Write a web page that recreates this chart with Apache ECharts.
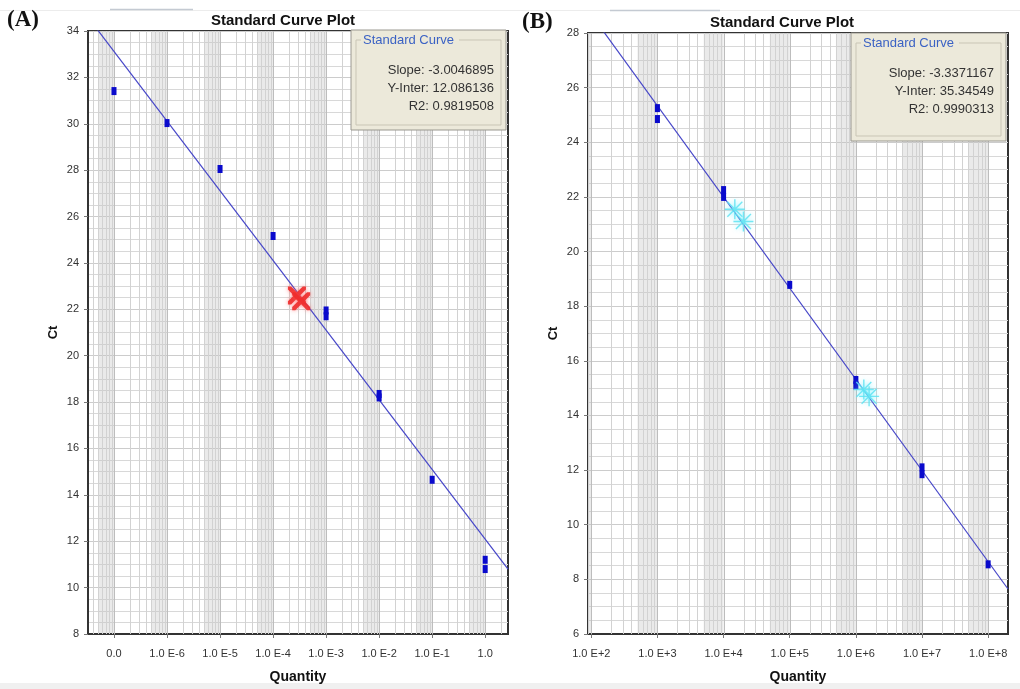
<!DOCTYPE html>
<html>
<head>
<meta charset="utf-8">
<title>Standard Curve Plot</title>
<script src="https://cdn.jsdelivr.net/npm/echarts@6/dist/echarts.min.js"></script>
<style>
  html, body { margin: 0; padding: 0; background: #fff; }
  #main { width: 1020px; height: 689px; }
</style>
</head>
<body>
<div id="main"></div>
<script>
// ---- panel A (x = log10 quantity) ----
var logQtyA = [-7, -6, -5, -4, -3, -3, -2, -2, -1, 0, 0];
var ctA = [31.41, 30.03, 28.05, 25.16, 21.95, 21.70, 18.35, 18.20, 14.65, 11.20, 10.80];
var unkLogA = [-3.55, -3.47];
var unkCtA = [22.60, 22.35];
var decadesA = [-7, -6, -5, -4, -3, -2, -1, 0];
var tickLabelsA = ['0.0', '1.0 E-6', '1.0 E-5', '1.0 E-4', '1.0 E-3', '1.0 E-2', '1.0 E-1', '1.0'];
var fitA = [-3.0046895, 12.086136, 0.9819508]; // slope, y-inter, R2

// ---- panel B ----
var logQtyB = [3, 3, 4, 4, 5, 6, 6, 7, 7, 8];
var ctB = [25.25, 24.85, 22.25, 22.00, 18.78, 15.30, 15.10, 12.10, 11.85, 8.55];
var unkLogB = [4.17, 4.30, 6.12, 6.20];
var unkCtB = [21.55, 21.10, 14.95, 14.70];
var decadesB = [2, 3, 4, 5, 6, 7, 8];
var tickLabelsB = ['1.0 E+2', '1.0 E+3', '1.0 E+4', '1.0 E+5', '1.0 E+6', '1.0 E+7', '1.0 E+8'];
var fitB = [-3.3371167, 35.34549, 0.9990313];

var xRangeA = [-7.49, 0.43], yRangeA = [8, 34];
var xRangeB = [1.95, 8.30], yRangeB = [6, 28];

var FONT = '"Liberation Sans", Arial, sans-serif';

function pairs(xs, ys) {
    return xs.map(function (x, i) { return [x, ys[i]]; });
}

// log grid positions (decades + 2..9 inside each decade)
function logLines(range) {
    var out = [];
    for (var d = Math.floor(range[0]); d <= Math.ceil(range[1]); d++) {
        for (var k = 1; k <= 9; k++) {
            var v = d + Math.log10(k);
            if (v >= range[0] && v <= range[1]) out.push([v, k === 1 ? 1 : 0]);
        }
    }
    return out;
}
function bands(range) {
    var out = [];
    for (var d = Math.floor(range[0]); d <= Math.ceil(range[1]); d++) {
        out.push([d + Math.log10(5), d + 1]);
    }
    return out;
}

function gridSeries(idx, xr, yr) {
    return [{
        type: 'custom', xAxisIndex: idx, yAxisIndex: idx, silent: true, z: 0, clip: true,
        data: bands(xr),
        renderItem: function (params, api) {
            var p1 = api.coord([api.value(0), yr[1]]);
            var p2 = api.coord([api.value(1), yr[0]]);
            return { type: 'rect', shape: { x: p1[0], y: p1[1], width: p2[0] - p1[0], height: p2[1] - p1[1] },
                     style: { fill: 'rgba(195,195,195,0.35)' } };
        }
    }, {
        type: 'custom', xAxisIndex: idx, yAxisIndex: idx, silent: true, z: 1, clip: true,
        data: logLines(xr),
        renderItem: function (params, api) {
            var p1 = api.coord([api.value(0), yr[1]]);
            var p2 = api.coord([api.value(0), yr[0]]);
            var x = Math.round(p1[0]) + 0.5;
            return { type: 'line', shape: { x1: x, y1: p1[1], x2: x, y2: p2[1] },
                     style: { stroke: api.value(1) ? '#bdbdbd' : '#d2d2d2', lineWidth: 1 } };
        }
    }];
}

function fitLine(idx, xr, fit) {
    return {
        type: 'line', xAxisIndex: idx, yAxisIndex: idx, showSymbol: false, silent: true, z: 2,
        data: [[xr[0], fit[0] * xr[0] + fit[1]], [xr[1], fit[0] * xr[1] + fit[1]]],
        lineStyle: { color: '#4646c8', width: 1.2 }
    };
}

var crossPath = 'path://M0,0 L3.5,0 L10,6.5 L16.5,0 L20,0 L20,3.5 L13.5,10 L20,16.5 L20,20 L16.5,20 L10,13.5 L3.5,20 L0,20 L0,16.5 L6.5,10 L0,3.5 Z';
var starPath = 'path://M0,9.3 L20,9.3 L20,10.7 L0,10.7 Z M9.3,0 L10.7,0 L10.7,20 L9.3,20 Z M2,3 L3,2 L18,17 L17,18 Z M17,2 L18,3 L3,18 L2,17 Z';

function xAxis(idx, xr, decades, labels) {
    return {
        type: 'value', gridIndex: idx, min: xr[0], max: xr[1],
        axisLine: { onZero: false, lineStyle: { color: '#333', width: 2 } },
        splitLine: { show: false },
        axisTick: { customValues: decades, length: 4, lineStyle: { color: '#777' } },
        axisLabel: {
            customValues: decades, margin: 14, fontSize: 11, color: '#333', fontFamily: FONT,
            formatter: function (v) { return labels[decades.indexOf(Math.round(v))]; }
        },
        name: 'Quantity', nameLocation: 'middle', nameGap: 36,
        nameTextStyle: { fontWeight: 'bold', fontSize: 14, color: '#111', fontFamily: FONT }
    };
}
function yAxis(idx, yr) {
    return {
        type: 'value', gridIndex: idx, min: yr[0], max: yr[1], interval: 2,
        axisLine: { show: true, onZero: false, lineStyle: { color: '#333', width: 2 } },
        axisTick: { show: true, length: 4, lineStyle: { color: '#777' } },
        axisLabel: { margin: 9, fontSize: 11, color: '#333', fontFamily: FONT },
        splitLine: { lineStyle: { color: '#cccccc' } },
        minorTick: { show: false, splitNumber: 4 },
        minorSplitLine: { show: true, lineStyle: { color: '#d8d8d8' } },
        name: 'Ct', nameLocation: 'middle', nameGap: 28,
        nameTextStyle: { fontWeight: 'bold', fontSize: 13, color: '#111', fontFamily: FONT }
    };
}

function legendBox(x, y, w, h, fit) {
    var bg = '#ece9da';
    var items = [
        { type: 'rect', shape: { x: x, y: y, width: w, height: h }, style: { fill: bg, stroke: '#9a9890', lineWidth: 1 } },
        { type: 'rect', shape: { x: x + 5, y: y + 10, width: w - 10, height: h - 15 }, style: { fill: 'none', stroke: '#c9c5b5', lineWidth: 1 } },
        { type: 'rect', shape: { x: x + 10, y: y + 3, width: 98, height: 14 }, style: { fill: bg } },
        { type: 'text', x: x + 12, y: y + 10, style: { text: 'Standard Curve', fill: '#3b62c4', font: '13px ' + FONT, verticalAlign: 'middle' } }
    ];
    var lines = ['Slope: ' + fit[0], 'Y-Inter: ' + fit[1], 'R2: ' + fit[2]];
    lines.forEach(function (t, i) {
        items.push({ type: 'text', x: x + w - 12, y: y + 40 + i * 18,
            style: { text: t, fill: '#333', font: '13px ' + FONT, align: 'right', verticalAlign: 'middle' } });
    });
    items.forEach(function (it) { it.z = 100; it.silent = true; });
    return items;
}

var chart = echarts.init(document.getElementById('main'));

var graphics = [
    { type: 'line', shape: { x1: 0, y1: 10.5, x2: 1020, y2: 10.5 }, style: { stroke: '#ececec', lineWidth: 1 } },
    { type: 'line', shape: { x1: 110, y1: 9.5, x2: 193, y2: 9.5 }, style: { stroke: '#c4cad2', lineWidth: 1.5 } },
    { type: 'line', shape: { x1: 610, y1: 10.5, x2: 720, y2: 10.5 }, style: { stroke: '#c4cad2', lineWidth: 1.5 } },
    { type: 'rect', shape: { x: 0, y: 683, width: 1020, height: 6 }, style: { fill: '#f0f0f0' } },
    { type: 'text', x: 7, y: 20, style: { text: '(A)', font: 'bold 23px "Liberation Serif", serif', fill: '#111', verticalAlign: 'middle' } },
    { type: 'text', x: 522, y: 22, style: { text: '(B)', font: 'bold 23px "Liberation Serif", serif', fill: '#111', verticalAlign: 'middle' } },
    { type: 'text', x: 283, y: 21, style: { text: 'Standard Curve Plot', font: 'bold 15px ' + FONT, fill: '#111', align: 'center', verticalAlign: 'middle' } },
    { type: 'text', x: 782, y: 23, style: { text: 'Standard Curve Plot', font: 'bold 15px ' + FONT, fill: '#111', align: 'center', verticalAlign: 'middle' } }
].concat(legendBox(351, 30, 155, 100, fitA), legendBox(851, 33, 155, 108, fitB));

chart.setOption({
    animation: false,
    backgroundColor: '#fff',
    textStyle: { fontFamily: FONT },
    grid: [
        { left: 88, top: 31, width: 420, height: 603, show: true, borderColor: '#333', borderWidth: 2, backgroundColor: '#fff' },
        { left: 588, top: 33, width: 420, height: 602, show: true, borderColor: '#333', borderWidth: 2, backgroundColor: '#fff' }
    ],
    xAxis: [xAxis(0, xRangeA, decadesA, tickLabelsA), xAxis(1, xRangeB, decadesB, tickLabelsB)],
    yAxis: [yAxis(0, yRangeA), yAxis(1, yRangeB)],
    graphic: graphics,
    series: [].concat(
        gridSeries(0, xRangeA, yRangeA),
        gridSeries(1, xRangeB, yRangeB),
        [
            fitLine(0, xRangeA, fitA),
            fitLine(1, xRangeB, fitB),
            {
                type: 'scatter', xAxisIndex: 0, yAxisIndex: 0, z: 3, symbol: 'rect', symbolSize: [5, 8],
                data: pairs(logQtyA, ctA), itemStyle: { color: '#0a0acc', opacity: 1 }
            },
            {
                type: 'scatter', xAxisIndex: 1, yAxisIndex: 1, z: 3, symbol: 'rect', symbolSize: [5, 8],
                data: pairs(logQtyB, ctB), itemStyle: { color: '#0a0acc', opacity: 1 }
            },
            {
                type: 'scatter', xAxisIndex: 0, yAxisIndex: 0, z: 4, symbol: crossPath, symbolSize: 18,
                data: pairs(unkLogA, unkCtA),
                itemStyle: { color: '#ee2b2b', opacity: 0.9, shadowColor: 'rgba(255,90,90,0.7)', shadowBlur: 4 }
            },
            {
                type: 'scatter', xAxisIndex: 1, yAxisIndex: 1, z: 4, symbol: starPath, symbolSize: 20,
                data: pairs(unkLogB, unkCtB),
                itemStyle: { color: '#5fe3f2', opacity: 0.85, shadowColor: 'rgba(120,240,255,0.8)', shadowBlur: 4 }
            }
        ]
    )
});
</script>
</body>
</html>
